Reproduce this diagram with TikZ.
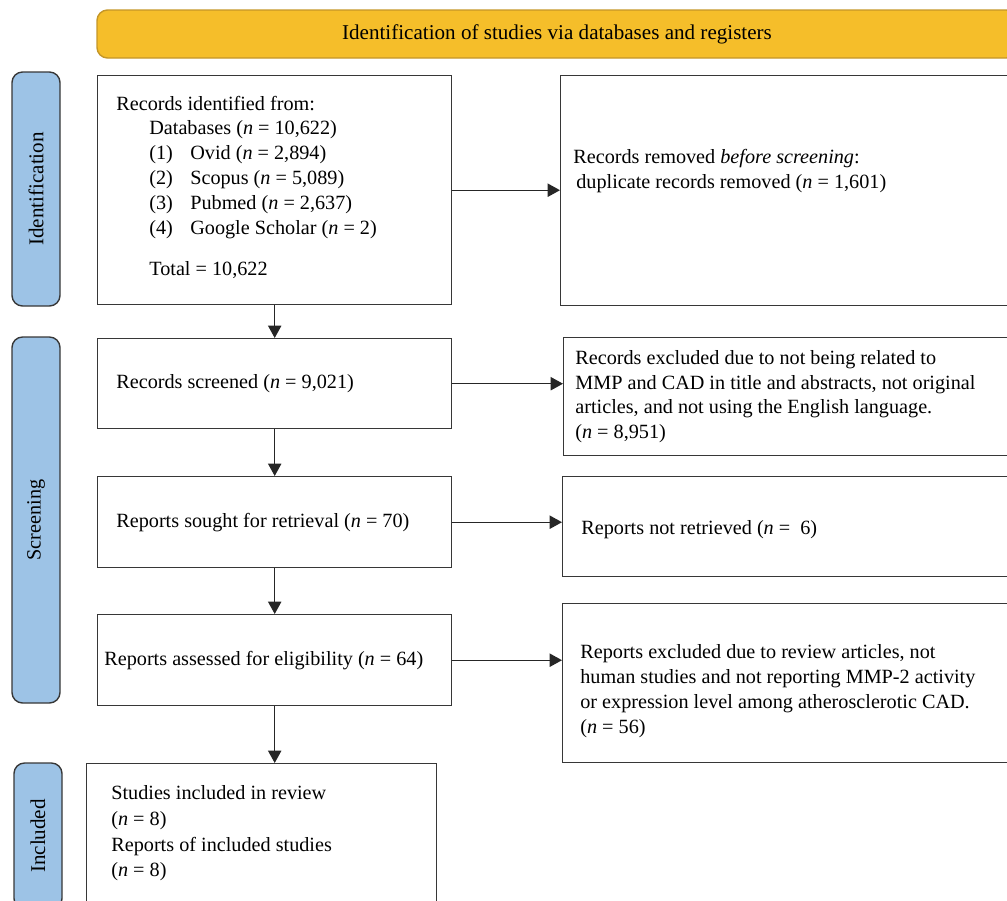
\documentclass[tikz,border=0pt]{standalone}
\usepackage{fontspec}
\setmainfont{Liberation Serif}
\usetikzlibrary{arrows.meta,positioning}
\newcommand{\nn}{\textit{n}}
\def\pu{0.02cm}
\definecolor{bannerfill}{RGB}{245,190,42}
\definecolor{bannerline}{RGB}{196,150,40}
\definecolor{phasefill}{RGB}{157,195,230}
\definecolor{boxline}{RGB}{55,55,55}

\begin{document}
\begin{tikzpicture}[x=0.02cm, y=-0.02cm, >={Triangle[length=7pt,width=7.5pt]},
  every node/.style={font=\fontsize{11.5}{14.1}\selectfont},
  box/.style={draw=boxline, line width=0.8pt, anchor=north west, inner sep=0pt},
  phase/.style={draw=boxline, fill=phasefill, line width=0.8pt, rounded corners=6pt,
    rotate=90, inner sep=0pt, minimum height=48*\pu},
  txt/.style={anchor=west, align=left, inner sep=0pt},
  flow/.style={->, line width=0.8pt, draw=black!85}]
  \clip (0,0) rectangle (1007,900);
  % Banner
  \node[draw=bannerline, fill=bannerfill, line width=0.8pt, rounded corners=6pt,
    minimum width=920*\pu, minimum height=48*\pu, font=\fontsize{12}{14}\selectfont]
    (banner) at (557,34) {Identification of studies via databases and registers};
  % Phase labels
  \node[phase, minimum width=234*\pu, font=\fontsize{12}{14}\selectfont] (phaseid) at (36,189) {Identification};
  \node[phase, minimum width=366*\pu] (phasescr) at (36,520) {Screening};
  \node[phase, minimum width=146*\pu, font=\fontsize{12}{14}\selectfont] (phaseinc) at (38,836) {Included};
  % Boxes
  \node[box, minimum width=354*\pu, minimum height=229*\pu] (ident) at (97,75) {};
  \node[box, minimum width=455*\pu, minimum height=230*\pu] (removed) at (560,75) {};
  \node[box, minimum width=354*\pu, minimum height=90*\pu] (screened) at (97,338) {};
  \node[box, minimum width=452*\pu, minimum height=118*\pu] (excl) at (563,337) {};
  \node[box, minimum width=354*\pu, minimum height=91*\pu] (sought) at (97,476) {};
  \node[box, minimum width=453*\pu, minimum height=100*\pu] (notret) at (562,476) {};
  \node[box, minimum width=354*\pu, minimum height=91*\pu] (assessed) at (97,614) {};
  \node[box, minimum width=453*\pu, minimum height=159*\pu] (repexcl) at (562,603) {};
  \node[box, minimum width=350*\pu, minimum height=160*\pu] (incl) at (86,763) {};
  % Box texts
  \node[txt] (identtxt) at ([xshift=19*\pu, yshift=3*\pu]ident.west)
    {Records identified from:\\
     \hspace*{0.66cm}Databases (\nn{} = 10,622)\\
     \hspace*{0.66cm}\makebox[0.82cm][l]{(1)}Ovid (\nn{} = 2,894)\\
     \hspace*{0.66cm}\makebox[0.82cm][l]{(2)}Scopus (\nn{} = 5,089)\\
     \hspace*{0.66cm}\makebox[0.82cm][l]{(3)}Pubmed (\nn{} = 2,637)\\
     \hspace*{0.66cm}\makebox[0.82cm][l]{(4)}Google Scholar (\nn{} = 2)\\[0.33cm]
     \hspace*{0.66cm}Total = 10,622};
  \node[txt] (removedtxt) at ([xshift=13*\pu, yshift=20*\pu]removed.west)
    {Records removed \textit{before screening}:\\
     \hspace*{0.06cm}duplicate records removed (\nn{} = 1,601)};
  \node[txt] (screenedtxt) at ([xshift=19*\pu]screened.west)
    {Records screened (\nn{} = 9,021)};
  \node[txt] (excltxt) at ([xshift=12*\pu]excl.west)
    {Records excluded due to not being related to\\
     MMP and CAD in title and abstracts, not original\\
     articles, and not using the English language.\\
     (\nn{} = 8,951)};
  \node[txt] (soughttxt) at ([xshift=19*\pu]sought.west)
    {Reports sought for retrieval (\nn{} = 70)};
  \node[txt] (notrettxt) at ([xshift=19*\pu, yshift=-3*\pu]notret.west)
    {Reports not retrieved (\nn{} =\ \ 6)};
  \node[txt] (assessedtxt) at ([xshift=7*\pu]assessed.west)
    {Reports assessed for eligibility (\nn{} = 64)};
  \node[txt] (repexcltxt) at ([xshift=18*\pu, yshift=-8*\pu]repexcl.west)
    {Reports excluded due to review articles, not\\
     human studies and not reporting MMP-2 activity\\
     or expression level among atherosclerotic CAD.\\
     (\nn{} = 56)};
  \node[txt, anchor=north west, font=\fontsize{11.5}{14.7}\selectfont] (incltxt)
    at ([xshift=25*\pu, yshift=-22*\pu]incl.north west)
    {Studies included in review\\
     (\nn{} = 8)\\
     Reports of included studies\\
     (\nn{} = 8)};
  % Flow
  \draw[flow] (ident.east) -- (ident.east -| removed.west);
  \draw[flow] (screened.east) -- (screened.east -| excl.west);
  \draw[flow] (sought.east) -- (sought.east -| notret.west);
  \draw[flow] (assessed.east) -- (assessed.east -| repexcl.west);
  \draw[flow] (ident.south) -- (screened.north);
  \draw[flow] (screened.south) -- (sought.north);
  \draw[flow] (sought.south) -- (assessed.north);
  \draw[flow] (assessed.south) -- (assessed.south |- incl.north);
\end{tikzpicture}
\end{document}
